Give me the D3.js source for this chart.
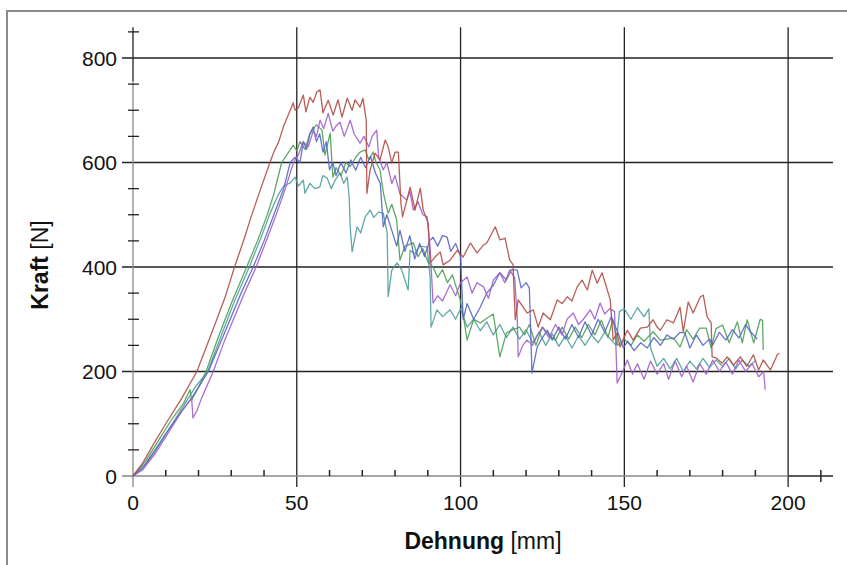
<!DOCTYPE html>
<html>
<head>
<meta charset="utf-8">
<script src="https://cdn.jsdelivr.net/npm/d3@7"></script>
<style>
  body { margin: 0; background: #fff; }
  text { font-family: "Liberation Sans", Arial, Helvetica, sans-serif; fill: #111; }
</style>
</head>
<body>
<script>
// Kraft [N] over Dehnung [mm], five test specimens
var xTicks = [0, 50, 100, 150, 200];
var yTicks = [0, 200, 400, 600, 800];

var redSeries = [[0,0],[3,25],[6,58],[10,100],[15,150],[19.5,200],[25,290],[28,340],[31,400],[34,455],[36,495],[39,550],[41.8,600],[43,620],[44.5,640],[46,670],[48,700],[48.9,714],[49.5,700],[50.5,705],[52,729],[52.8,697],[54,725],[55,715],[56.1,735],[57.1,739],[58,695],[59.6,719],[61.1,691],[62.6,720],[63.8,687],[65.4,723],[66.9,700],[67.8,720],[69.3,706],[70.2,723],[71.2,681],[71.4,541],[72.4,586],[73.9,618],[75.4,605],[77,643],[77.9,630],[79,599],[80,620],[81,620],[81.8,522],[82.3,496],[84.6,553],[86.1,509],[87.7,551],[88.6,509],[90.1,484],[90.7,408],[92.2,419],[93.8,429],[94.7,404],[96.8,413],[99,432],[100.8,419],[103,446],[105,427],[107,442],[108,446],[110.6,477],[112,452],[113.6,455],[115,413],[116,405],[116.7,299],[117.6,337],[120.3,312],[122.2,318],[123.7,285],[125.2,312],[127.4,299],[129.5,337],[131,330],[132.6,343],[134,335],[135.6,362],[137.1,375],[138.7,356],[140.2,394],[141.7,369],[143.2,389],[144.8,356],[145.7,337],[146.6,260],[147.8,274],[148.7,247],[150.9,279],[152.7,260],[154.9,283],[157,285],[158.8,299],[160,285],[161,279],[163,299],[165,293],[167,323],[168,276],[169.5,333],[171,312],[173.2,343],[174.1,346],[175.3,304],[176.5,293],[176.8,228],[178,226],[179.9,216],[181.4,228],[183.3,212],[185.4,228],[187.4,210],[189.4,232],[191,203],[192.4,222],[194.6,203],[196.7,232],[197.3,235]];

var greenSeries = [[0,0],[4,30],[8,70],[12,110],[15.5,140],[17.4,165],[17.9,145],[20,170],[22.3,200],[26,265],[30,330],[34.7,400],[38,450],[41,500],[43,540],[45.4,600],[47,615],[48.9,633],[50,622],[51,640],[52.5,625],[54,655],[56,672],[57.7,662],[58.6,614],[60.2,656],[61,572],[62,590],[63.5,575],[65,600],[66.3,592],[68,610],[69.3,620],[70.9,624],[72,605],[73.3,620],[74.2,600],[75.4,586],[76.5,540],[77.9,503],[79,520],[80.5,490],[81.5,413],[83,440],[85.6,446],[87,420],[88.5,435],[90,410],[91.6,400],[93,380],[94.5,395],[96,370],[97.5,385],[99.9,337],[101,300],[102,260],[104,300],[106,293],[108,302],[110,310],[112,228],[114,274],[116,280],[118,285],[119.5,270],[121,290],[123,250],[125,285],[127,270],[129,260],[131,285],[133,262],[135,285],[137,265],[139,290],[141,270],[143,298],[145,265],[146.5,300],[148,250],[150,262],[152,250],[154,270],[156,258],[158.8,276],[161,260],[163,262],[165,264],[167,247],[169,280],[171,262],[173,283],[175,283],[176.5,245],[178,282],[180,289],[182,255],[184.5,295],[186,255],[187.5,299],[189.5,255],[191.5,300],[192.2,298],[192.4,241]];

var blueSeries = [[0,0],[3,15],[7,50],[11,90],[15,125],[18,150],[20.5,175],[23,200],[27,260],[30,305],[33,350],[36.7,400],[40,450],[43,500],[46,550],[48,600],[49.5,610],[51,600],[52,640],[53,625],[54,655],[55,668],[56,640],[57,655],[58,620],[59,640],[60,586],[61,600],[62,575],[63.5,600],[65,580],[66.5,605],[68,585],[69.5,610],[71,590],[72.5,612],[74,580],[75.5,560],[76.4,477],[77.5,500],[79,470],[80.5,440],[81.5,470],[83,430],[84.5,460],[86,415],[87.5,445],[89,420],[90.5,450],[91.6,457],[93,440],[94.5,460],[95.9,457],[97,430],[98.5,445],[100,420],[100.8,300],[102,330],[104,300],[106,323],[108,350],[110,365],[112,389],[114,375],[115.5,395],[117.3,394],[118.5,360],[120,370],[121,360],[121.8,197],[123.4,247],[125,265],[126.5,279],[128,260],[130,285],[132,262],[134,290],[136,265],[138,295],[140,270],[142,300],[144,275],[146,305],[148,275],[149.7,245],[151,258],[153,240],[155,255],[157,245],[159,265],[161,250],[163,270],[165,262],[167,275],[168.5,274],[170,245],[172,270],[174,250],[176,262],[177,251],[179,275],[181,260],[183,280],[185,264],[187,290],[188.5,276],[190.6,262]];

var purpleSeries = [[0,0],[3,12],[7,45],[11,85],[15,125],[17.9,149],[18.3,111],[19.5,125],[21,150],[24.5,200],[28,260],[31,305],[34,350],[37.6,400],[41,455],[44,505],[46.5,550],[49,600],[50.5,615],[52,640],[53.5,630],[55,660],[56,650],[57.1,681],[58.2,665],[59.6,694],[61,660],[62,670],[63.2,677],[64.5,650],[66.3,681],[67.5,655],[69.3,637],[70.5,650],[72,630],[73,650],[74.4,662],[75,610],[76.4,586],[77.5,600],[79,560],[80,575],[81.5,540],[83.6,528],[84.5,545],[85.6,509],[87,525],[88.5,500],[89.8,496],[90.7,438],[91.6,331],[93,345],[94.5,335],[96.8,366],[98.5,345],[100,370],[102,381],[103.5,350],[105,370],[107,362],[108.5,340],[110,375],[112,389],[113.5,370],[115,394],[116.5,380],[117.3,305],[117.6,228],[119,250],[120.3,260],[122,250],[123.5,270],[125,285],[127,265],[129,290],[131,270],[132.5,300],[134.4,312],[136,290],[137.5,300],[139.6,318],[141,300],[142.6,331],[144,310],[145.5,320],[147,315],[147.5,235],[147.8,178],[149.5,200],[150.9,222],[152.5,195],[154,215],[156,185],[158,220],[160,195],[162,215],[163.5,185],[165.5,220],[167.5,190],[169,210],[171,180],[173,215],[175,195],[177,222],[179,200],[181,218],[183,195],[185,222],[187,200],[189,215],[191,190],[192.5,200],[193,165]];

var tealSeries = [[0,0],[4,25],[8,62],[12,100],[16,140],[19,170],[22.8,200],[27,270],[31,335],[35.5,400],[39,455],[42,505],[44.5,540],[46,555],[48,561],[49.5,572],[50.5,555],[52,566],[52.5,541],[54,560],[55.5,550],[57,553],[58,575],[59.3,570],[60.5,550],[61.7,566],[63.2,580],[64.3,560],[65.4,572],[66,534],[66.3,477],[66.9,429],[68.4,477],[69.5,465],[70.9,496],[72.4,509],[73.5,495],[75,505],[76.4,503],[77.6,465],[77.9,343],[79,394],[80.6,408],[82,395],[84,356],[84.6,432],[86,425],[87.5,440],[89.8,438],[90.7,381],[91,285],[92.8,318],[94.5,305],[96.8,318],[98.5,300],[100,320],[102,285],[104,300],[106,278],[108,295],[110,270],[112,290],[114,265],[116,285],[118,262],[120,280],[122,255],[124,275],[126,250],[128,272],[130,248],[132,268],[134,245],[136,268],[138,250],[140,270],[142,255],[144,275],[146,260],[147.5,250],[148.5,315],[150,320],[152,300],[154,322],[156,305],[157.5,320],[158,245],[160,210],[162,225],[164,205],[166,225],[168,200],[170,220],[172,205],[174,225],[176,208],[178,222],[180,210],[182,225],[184,205],[186,222],[188,210],[190,220]];

var series = [
  { data: tealSeries,   color: '#4e9f9c' },
  { data: greenSeries,  color: '#4c9f55' },
  { data: blueSeries,   color: '#5566c6' },
  { data: purpleSeries, color: '#a05ec9' },
  { data: redSeries,    color: '#b04c44' }
];

var width = 847, height = 565;

var x = d3.scaleLinear().domain([0, 213.7]).range([133, 833]);
var y = d3.scaleLinear().domain([0, 800]).range([476, 58]);

var svg = d3.select('body').append('svg')
  .attr('width', width).attr('height', height);

svg.append('rect').attr('width', width).attr('height', height).attr('fill', '#fff');

// outer frame, only top and left visible
svg.append('path')
  .attr('d', 'M7,' + height + 'V11H' + width)
  .attr('fill', 'none').attr('stroke', '#8c8c8c').attr('stroke-width', 2);

var yTop = y(859), xEnd = x(213.7);

// grid
svg.selectAll('.hgrid').data(yTicks.slice(1)).enter().append('line')
  .attr('x1', 122).attr('x2', xEnd)
  .attr('y1', function(d){ return y(d); }).attr('y2', function(d){ return y(d); })
  .attr('stroke', '#222').attr('stroke-width', 1.3);

svg.selectAll('.vgrid').data(xTicks.slice(1)).enter().append('line')
  .attr('x1', function(d){ return x(d); }).attr('x2', function(d){ return x(d); })
  .attr('y1', yTop).attr('y2', y(0) + 11)
  .attr('stroke', '#222').attr('stroke-width', 1.3);

// axes at zero: grey where the plot image was, black outside it
svg.append('line').attr('x1', x(0)).attr('x2', x(0)).attr('y1', y(750) - 3).attr('y2', y(0) + 11)
  .attr('stroke', '#888').attr('stroke-width', 1.3);
svg.append('line').attr('x1', x(0)).attr('x2', x(0)).attr('y1', yTop).attr('y2', y(750) - 3)
  .attr('stroke', '#222').attr('stroke-width', 1.3);
svg.append('line').attr('x1', 122).attr('x2', x(200)).attr('y1', y(0)).attr('y2', y(0))
  .attr('stroke', '#888').attr('stroke-width', 1.3);
svg.append('line').attr('x1', x(200)).attr('x2', xEnd).attr('y1', y(0)).attr('y2', y(0))
  .attr('stroke', '#222').attr('stroke-width', 1.3);

// minor ticks
var yMinor = d3.range(50, 851, 50).filter(function(d){ return d % 200 !== 0; });
svg.selectAll('.ymin').data(yMinor).enter().append('line')
  .attr('x1', x(0) - 5).attr('x2', x(0) + 6)
  .attr('y1', function(d){ return y(d); }).attr('y2', function(d){ return y(d); })
  .attr('stroke', '#222').attr('stroke-width', 1.3);

var xMinor = d3.range(10, 211, 10).filter(function(d){ return d % 50 !== 0; });
svg.selectAll('.xmin').data(xMinor).enter().append('line')
  .attr('x1', function(d){ return x(d); }).attr('x2', function(d){ return x(d); })
  .attr('y1', y(0) - 6).attr('y2', function(d){ return d > 200 ? y(0) + 6 : y(0); })
  .attr('stroke', '#222').attr('stroke-width', 1.5);

// tick labels
svg.selectAll('.ylab').data(yTicks).enter().append('text')
  .attr('x', 117).attr('y', function(d){ return y(d) + 7.5; })
  .attr('text-anchor', 'end').attr('font-size', 21)
  .text(function(d){ return d; });

svg.selectAll('.xlab').data(xTicks).enter().append('text')
  .attr('x', function(d){ return x(d); }).attr('y', 510)
  .attr('text-anchor', 'middle').attr('font-size', 21)
  .text(function(d){ return d; });

// curves
var line = d3.line()
  .x(function(d){ return x(d[0]); })
  .y(function(d){ return y(d[1]); });

svg.selectAll('.curve').data(series).enter().append('path')
  .attr('d', function(s){ return line(s.data); })
  .attr('fill', 'none')
  .attr('stroke', function(s){ return s.color; })
  .attr('stroke-width', 1.3)
  .attr('stroke-linejoin', 'round')
  .attr('opacity', 0.9);

// axis titles
var xt = svg.append('text').attr('x', 483).attr('y', 549)
  .attr('text-anchor', 'middle').attr('font-size', 23);
xt.append('tspan').attr('font-weight', 'bold').text('Dehnung');
xt.append('tspan').text(' [mm]');

var yt = svg.append('text')
  .attr('transform', 'translate(48,265) rotate(-90)')
  .attr('text-anchor', 'middle').attr('font-size', 23);
yt.append('tspan').attr('font-weight', 'bold').text('Kraft');
yt.append('tspan').text(' [N]');
</script>
</body>
</html>
